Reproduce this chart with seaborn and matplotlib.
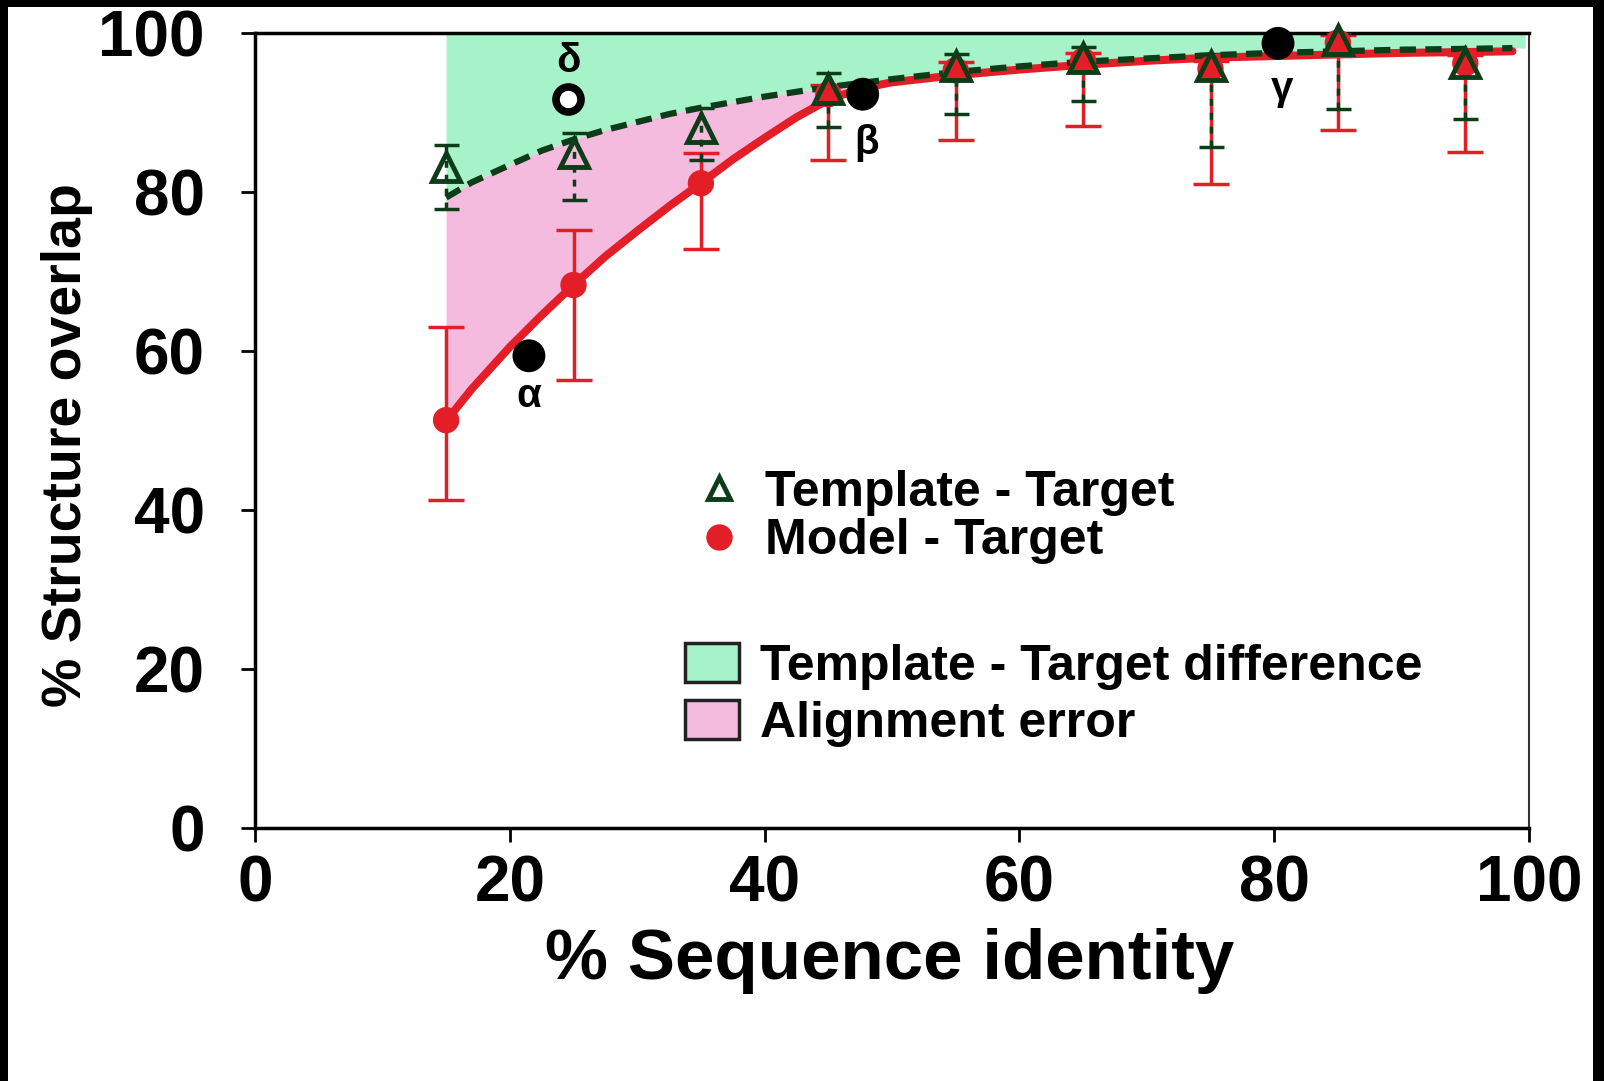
import numpy as np
import pandas as pd
import matplotlib
matplotlib.use("Agg")
import matplotlib.pyplot as plt
import seaborn as sns
from matplotlib.lines import Line2D
from matplotlib.patches import Patch, Rectangle

# ---------------- data ----------------
seq_identity = [15, 25, 35, 45, 55, 65, 75, 85, 95]

template_vals = [83.2, 84.9, 88.0, 93.0, 95.8, 96.8, 95.8, 99.1, 96.2]
template_low = [77.9, 79.0, 84.0, 88.2, 89.8, 91.5, 85.6, 90.4, 89.2]
template_high = [85.9, 87.4, 90.6, 95.0, 97.3, 98.3, 97.3, 100.0, 97.7]

model_vals = [51.3, 68.3, 81.1, 92.3, 95.3, 96.5, 95.5, 98.8, 96.2]
model_low = [41.2, 56.3, 72.8, 84.0, 86.5, 88.3, 81.0, 87.8, 85.0]
model_high = [63.0, 75.2, 84.9, 93.5, 96.3, 97.5, 96.5, 99.8, 97.2]

curve_x = [15, 17, 20, 22.5, 25, 27.5, 30, 32.5, 35, 37.5, 40, 42.5, 45, 47.5,
           50, 55, 60, 65, 70, 75, 80, 85, 90, 95, 98.7]
model_curve = [51.2, 55.2, 60.5, 64.5, 68.3, 71.9, 75.1, 78.2, 81.1, 84.1, 86.8,
               89.4, 91.6, 93.0, 93.8, 94.7, 95.4, 96.0, 96.5, 96.9, 97.1, 97.3,
               97.5, 97.6, 97.7]
template_curve = [79.3, 81.2, 83.4, 85.2, 86.6, 87.8, 88.8, 89.8, 90.6, 91.3, 92.0,
                  92.6, 93.2, 93.7, 94.2, 95.1, 95.8, 96.4, 96.8, 97.2, 97.5, 97.7,
                  97.9, 98.0, 98.1]
shade_right_edge = 99.7

special_labels = ["α", "β", "γ"]
special_x = [21.5, 47.7, 80.3]
special_y = [59.4, 92.3, 98.7]
special_text_x = [21.5, 48.0, 80.6]
special_text_y = [54.3, 86.2, 93.0]
delta_x, delta_y = 24.6, 91.7
delta_text_x, delta_text_y = 24.6, 96.5

x_ticks = [0, 20, 40, 60, 80, 100]
y_ticks = [0, 20, 40, 60, 80, 100]

# ---------------- style ----------------
RED = "#e41e26"
DKGREEN = "#0d3d18"
GREEN_FILL = "#a6f2c9"
PINK_FILL = "#f5bbdf"

sns.set_theme(style="ticks")
plt.rcParams["font.family"] = ["Liberation Sans", "DejaVu Sans"]
plt.rcParams["font.weight"] = "bold"
plt.rcParams["text.color"] = "black"
plt.rcParams["axes.labelcolor"] = "black"
plt.rcParams["axes.labelweight"] = "bold"

fig = plt.figure(figsize=(16.04, 10.81), dpi=100)
fig.patch.set_facecolor("black")
fig.add_artist(Rectangle((8 / 1604, 0), (1593 - 8) / 1604, 1 - 7 / 1081,
                         transform=fig.transFigure, facecolor="white",
                         edgecolor="none", zorder=-10))
ax = fig.add_axes([255 / 1604, 1 - 828 / 1081, (1529 - 255) / 1604, (828 - 33) / 1081])
ax.set_facecolor("white")

cx = np.array(curve_x)
mc = np.array(model_curve)
tc = np.array(template_curve)

# shaded regions
gx = np.append(cx, shade_right_edge)
gt = np.append(tc, tc[-1])
ax.fill_between(gx, gt, 100, color=GREEN_FILL, lw=0, zorder=1)
ax.fill_between(cx, mc, tc, where=cx <= 47.5, color=PINK_FILL, lw=0, zorder=1)

# error bars
m_vals = np.array(model_vals)
ax.errorbar(seq_identity, m_vals, yerr=[m_vals - np.array(model_low), np.array(model_high) - m_vals],
            fmt="none", ecolor=RED, elinewidth=2.5, capsize=13, capthick=2.5, zorder=2)
t_vals = np.array(template_vals)
eb = ax.errorbar(seq_identity, t_vals, yerr=[t_vals - np.array(template_low), np.array(template_high) - t_vals],
                 fmt="none", ecolor=DKGREEN, elinewidth=2.5, capsize=9, capthick=2.5, zorder=3)
for lc in eb[2]:
    lc.set_linestyle((0, (2, 2)))

# fitted curves
sns.lineplot(x=curve_x, y=model_curve, ax=ax, color=RED, lw=5.8, zorder=4)
sns.lineplot(x=curve_x, y=template_curve, ax=ax, color=DKGREEN, lw=4.5,
             linestyle=(0, (2.6, 1.5)), zorder=5)

# points
sns.scatterplot(x=seq_identity, y=model_vals, ax=ax, color=RED, s=360,
                edgecolor="none", zorder=6, clip_on=False)
ax.plot(seq_identity, template_vals, ls="none", marker="^", ms=20, mfc="none",
        mec=DKGREEN, mew=3.5, zorder=7, clip_on=False)

# special examples
sns.scatterplot(x=special_x, y=special_y, ax=ax, color="black", s=560,
                edgecolor="none", zorder=8, clip_on=False)
ax.plot([delta_x], [delta_y], ls="none", marker="o", ms=18, mfc="white",
        mec="black", mew=5.5, zorder=8)
for lab, tx, ty in zip(special_labels, special_text_x, special_text_y):
    ax.text(tx, ty, lab, ha="center", va="center", fontsize=29, fontweight="bold",
            color="black", zorder=9)
ax.text(delta_text_x, delta_text_y, "δ", ha="center", va="center", fontsize=29,
        fontweight="bold", color="black", zorder=9)

# axes
ax.set_xlim(0, 100)
ax.set_ylim(0, 100)
ax.set_xticks(x_ticks)
ax.set_yticks(y_ticks)
ax.tick_params(axis="both", direction="out", length=10, width=2, colors="black",
               labelsize=46)
ax.tick_params(axis="y", pad=26)
ax.tick_params(axis="x", pad=9)
for t in ax.get_xticklabels() + ax.get_yticklabels():
    t.set_fontweight("bold")
for side in ["left", "bottom", "top"]:
    ax.spines[side].set_linewidth(2.5)
    ax.spines[side].set_color("black")
ax.spines["right"].set_linewidth(1.5)
ax.spines["right"].set_color("#333333")
ax.grid(False)

ax.set_xlabel("% Sequence identity", fontsize=51, fontweight="bold")
ax.set_ylabel("% Structure overlap", fontsize=40, fontweight="bold")
ax.xaxis.set_label_coords(0.498, -0.126)
ax.yaxis.set_label_coords(-0.127, 0.482)

# legends
h1 = [Line2D([], [], ls="none", marker="^", ms=16, mfc="none", mec=DKGREEN, mew=3.5),
      Line2D([], [], ls="none", marker="o", ms=19, mfc=RED, mec="none")]
leg1 = ax.legend(h1, ["Template - Target", "Model - Target"], loc="upper left",
                 bbox_to_anchor=(694 / 1604, 1 - 470 / 1081), bbox_transform=fig.transFigure,
                 frameon=False, handlelength=1.0, handletextpad=0.42,
                 borderpad=0, borderaxespad=0, labelspacing=0.05,
                 prop={"weight": "bold", "size": 36})
ax.add_artist(leg1)
h2 = [Patch(facecolor=GREEN_FILL, edgecolor="#222222", lw=2.5),
      Patch(facecolor=PINK_FILL, edgecolor="#222222", lw=2.5)]
leg2 = ax.legend(h2, ["Template - Target difference", "Alignment error"], loc="upper left",
                 bbox_to_anchor=(685 / 1604, 1 - 643 / 1081), bbox_transform=fig.transFigure,
                 frameon=False, handlelength=1.08, handleheight=0.82,
                 handletextpad=0.42, borderpad=0, borderaxespad=0, labelspacing=0.2,
                 prop={"weight": "bold", "size": 36})

fig.savefig("out.png", dpi=100, facecolor=fig.get_facecolor())
